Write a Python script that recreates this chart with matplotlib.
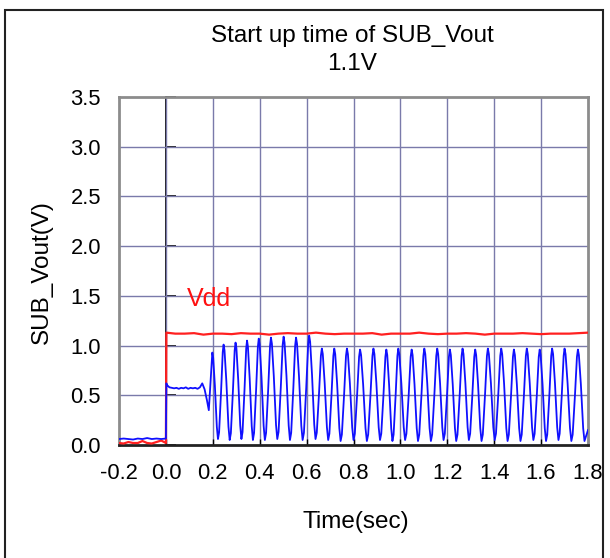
import numpy as np
import matplotlib
matplotlib.use('Agg')
import matplotlib.pyplot as plt
from matplotlib.patches import Rectangle

plt.rcParams['font.family'] = ['Liberation Sans', 'DejaVu Sans']

# ---------------- data ----------------
x_ticks = [-0.2, 0.0, 0.2, 0.4, 0.6, 0.8, 1.0, 1.2, 1.4, 1.6, 1.8]
x_tick_labels = ['-0.2', '0.0', '0.2', '0.4', '0.6', '0.8', '1.0', '1.2', '1.4', '1.6', '1.8']
y_ticks = [0.0, 0.5, 1.0, 1.5, 2.0, 2.5, 3.0, 3.5]
y_tick_labels = ['0.0', '0.5', '1.0', '1.5', '2.0', '2.5', '3.0', '3.5']

# Vdd (red) before power-on
vdd_pre_t = [-0.2, -0.18, -0.16, -0.14, -0.12, -0.10, -0.08, -0.06, -0.04, -0.02, 0.0]
vdd_pre_v = [0.02, 0.015, 0.03, 0.02, 0.02, 0.04, 0.02, 0.015, 0.03, 0.045, 0.02]
# Vdd after power-on
vdd_on_t = [0.002, 0.04, 0.08, 0.12, 0.16, 0.20, 0.24, 0.28, 0.32, 0.36, 0.40, 0.44,
            0.48, 0.52, 0.56, 0.60, 0.64, 0.68, 0.72, 0.76, 0.80, 0.84, 0.88, 0.92,
            0.96, 1.00, 1.04, 1.08, 1.12, 1.16, 1.20, 1.24, 1.28, 1.32, 1.36, 1.40,
            1.44, 1.48, 1.52, 1.56, 1.60, 1.64, 1.68, 1.72, 1.76, 1.80]
vdd_on_v = [1.13, 1.12, 1.12, 1.125, 1.11, 1.12, 1.12, 1.115, 1.125, 1.12, 1.12, 1.11,
            1.12, 1.125, 1.12, 1.12, 1.13, 1.12, 1.115, 1.12, 1.12, 1.12, 1.125, 1.11,
            1.12, 1.12, 1.12, 1.13, 1.12, 1.115, 1.12, 1.12, 1.125, 1.12, 1.11, 1.12,
            1.12, 1.12, 1.125, 1.12, 1.115, 1.12, 1.12, 1.12, 1.125, 1.13]

# SUB_Vout (blue) before power-on and start-up plateau
out_pre_t = [-0.2, -0.18, -0.16, -0.14, -0.12, -0.10, -0.08, -0.06, -0.04, -0.02, 0.0]
out_pre_v = [0.06, 0.065, 0.06, 0.055, 0.065, 0.06, 0.07, 0.06, 0.065, 0.06, 0.065]
out_start_t = [0.002, 0.006, 0.015, 0.025, 0.035, 0.045, 0.055, 0.065, 0.075, 0.085,
               0.095, 0.105, 0.115, 0.125, 0.135, 0.145, 0.155, 0.165, 0.175, 0.183]
out_start_v = [0.62, 0.60, 0.58, 0.575, 0.57, 0.575, 0.565, 0.575, 0.57, 0.58,
               0.565, 0.575, 0.57, 0.575, 0.565, 0.58, 0.62, 0.56, 0.45, 0.35]
# oscillation peaks / troughs
peak_t = [0.198, 0.246, 0.297, 0.346, 0.396, 0.448, 0.502, 0.555, 0.611, 0.665,
          0.718, 0.772, 0.828, 0.885, 0.940, 0.991, 1.048, 1.102, 1.157, 1.211,
          1.265, 1.319, 1.373, 1.430, 1.484, 1.539, 1.594, 1.647, 1.700, 1.757]
peak_v = [0.93, 1.01, 1.03, 1.05, 1.07, 1.08, 1.09, 1.08, 1.10, 0.97,
          0.97, 0.97, 0.96, 0.97, 0.96, 0.97, 0.96, 0.97, 0.97, 0.96,
          0.97, 0.96, 0.97, 0.97, 0.96, 0.97, 0.96, 0.97, 0.97, 0.96]
trough_t = [0.222, 0.272, 0.322, 0.371, 0.422, 0.475, 0.529, 0.583, 0.638, 0.692,
            0.745, 0.800, 0.857, 0.913, 0.966, 1.020, 1.075, 1.130, 1.184, 1.238,
            1.292, 1.346, 1.402, 1.457, 1.512, 1.567, 1.621, 1.674, 1.729, 1.785]
trough_v = [0.06, 0.05, 0.06, 0.05, 0.05, 0.06, 0.05, 0.05, 0.06, 0.05,
            0.04, 0.05, 0.04, 0.05, 0.04, 0.05, 0.04, 0.04, 0.05, 0.04,
            0.05, 0.04, 0.05, 0.04, 0.04, 0.05, 0.04, 0.05, 0.04, 0.04]
out_end_t = 1.80
out_end_v = 0.15
# edge shape (fraction of time, fraction of swing)
fall_ft = [0.0, 0.15, 0.45, 0.8, 1.0]
fall_fv = [1.0, 0.94, 0.62, 0.14, 0.0]
rise_ft = [0.0, 0.2, 0.55, 0.85, 1.0]
rise_fv = [0.0, 0.07, 0.5, 0.92, 1.0]

# ---------------- build blue trace ----------------
bt = list(out_pre_t) + list(out_start_t)
bv = list(out_pre_v) + list(out_start_v)
for i in range(len(peak_t)):
    p_t, p_v, q_t, q_v = peak_t[i], peak_v[i], trough_t[i], trough_v[i]
    for f, g in zip(fall_ft, fall_fv):
        bt.append(p_t + f * (q_t - p_t))
        bv.append(q_v + g * (p_v - q_v))
    if i + 1 < len(peak_t):
        n_t, n_v = peak_t[i + 1], peak_v[i + 1]
        for f, g in zip(rise_ft[1:-1], rise_fv[1:-1]):
            bt.append(q_t + f * (n_t - q_t))
            bv.append(q_v + g * (n_v - q_v))
bt.append(out_end_t)
bv.append(out_end_v)

rt = list(vdd_pre_t) + list(vdd_on_t)
rv = list(vdd_pre_v) + list(vdd_on_v)

# ---------------- figure ----------------
fig = plt.figure(figsize=(6.10, 5.58), dpi=100)
ax = fig.add_axes([119 / 610, 1 - 445 / 558, (588 - 119) / 610, (445 - 97) / 558])

grid_c = '#7a7aaa'
for xt in x_ticks[1:-1]:
    ax.axvline(xt, color=grid_c, lw=1.0, zorder=1)
for yt in y_ticks[1:-1]:
    ax.axhline(yt, color=grid_c, lw=1.0, zorder=1)

ax.plot(rt, rv, color='#ff2020', lw=1.6, zorder=3)
ax.plot(bt, bv, color='#1010ff', lw=1.3, zorder=4)

ax.set_xlim(-0.2, 1.8)
ax.set_ylim(0, 3.5)
ax.set_xticks(x_ticks)
ax.set_xticklabels(x_tick_labels)
ax.set_yticks(y_ticks)
ax.set_yticklabels(y_tick_labels)
ax.tick_params(axis='y', length=0, pad=13, labelsize=15.8)
ax.tick_params(axis='x', direction='in', length=4, width=1, color='black', pad=13, labelsize=15.8)

for s in ['left', 'top', 'right']:
    ax.spines[s].set_color('#8c8c8c')
    ax.spines[s].set_linewidth(2)
ax.spines['bottom'].set_color('#222222')
ax.spines['bottom'].set_linewidth(2)

# y axis line at x = 0 with inward ticks
sec = ax.secondary_yaxis((0 - (-0.2)) / 2.0)
sec.set_yticks(y_ticks)
sec.set_yticklabels([''] * len(y_ticks))
sec.tick_params(direction='in', length=7, width=1.2, color='black')
sec.spines['left'].set_color('black')
sec.spines['left'].set_linewidth(1.3)

ax.text(0.09, 1.47, 'Vdd', color='#ff1010', fontsize=18, va='center', ha='left', zorder=5)

fig.text(0.577, 1 - 36 / 558, 'Start up time of SUB_Vout', ha='center', va='center', fontsize=17.5)
fig.text(0.577, 1 - 64 / 558, '1.1V', ha='center', va='center', fontsize=17.5)
fig.text(0.584, 36 / 558, 'Time(sec)', ha='center', va='center', fontsize=17.5)
fig.text(0.069, 0.5125, 'SUB_Vout(V)', ha='center', va='center', rotation=90, fontsize=17.5)

fig.patches.append(Rectangle((5 / 610, -0.01), (603 - 5) / 610, 1 - 10 / 558 + 0.01,
                             transform=fig.transFigure, fill=False, edgecolor='#222222',
                             lw=1.5))

fig.savefig('out.png', dpi=100)
